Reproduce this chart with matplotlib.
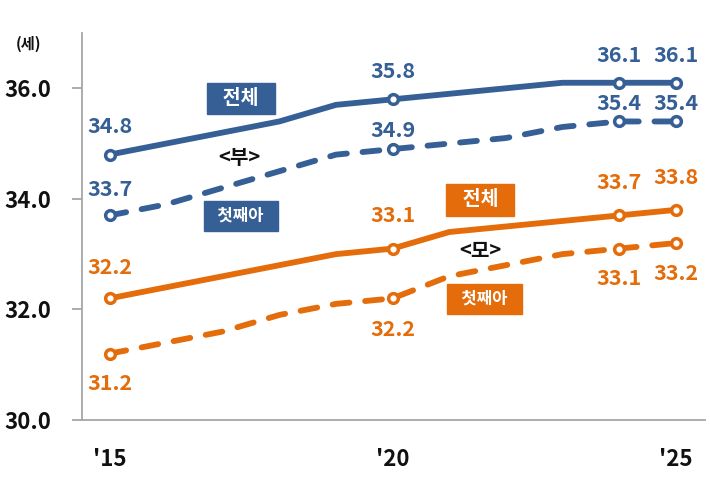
import matplotlib
matplotlib.use("Agg")
import matplotlib.pyplot as plt

plt.rcParams['font.family'] = ['Noto Sans CJK KR', 'DejaVu Sans']

years = list(range(2015, 2026))
father_total = [34.8, 35.0, 35.2, 35.4, 35.7, 35.8, 35.9, 36.0, 36.1, 36.1, 36.1]
father_first = [33.7, 33.9, 34.2, 34.5, 34.8, 34.9, 35.0, 35.1, 35.3, 35.4, 35.4]
mother_total = [32.2, 32.4, 32.6, 32.8, 33.0, 33.1, 33.4, 33.5, 33.6, 33.7, 33.8]
mother_first = [31.2, 31.4, 31.6, 31.9, 32.1, 32.2, 32.6, 32.8, 33.0, 33.1, 33.2]
marked_idx = [0, 5, 9, 10]
xtick_years = [2015, 2020, 2025]
xtick_labels = ["'15", "'20", "'25"]
yticks = [30.0, 32.0, 34.0, 36.0]

BLUE = '#355F95'
ORANGE = '#E46C0A'

fig = plt.figure(figsize=(7.1, 4.79), dpi=100)
ax = fig.add_axes([82/710, 1-420/479, (705-82)/710, (420-33)/479])
ax.set_xlim(2014.514, 2025.52)
ax.set_ylim(30, 37)

series = [
    (father_total, BLUE, '-', [28, 28, 27, 27]),
    (father_first, BLUE, '--', [26, 19, 18, 18]),
    (mother_total, ORANGE, '-', [31, 33, 33, 32]),
    (mother_first, ORANGE, '--', [-30, -31, -30, -30]),
]

for vals, col, ls, offs in series:
    kw = dict(color=col, lw=4.2, solid_capstyle='round', solid_joinstyle='round',
              marker='o', markevery=marked_idx, markersize=7, markeredgewidth=2.5,
              markerfacecolor='white', markeredgecolor=col, zorder=3)
    if ls == '--':
        kw.update(dashes=(2.9, 2.7), dash_capstyle='round')
    ax.plot(years, vals, ls, **kw)
    for i, off in zip(marked_idx, offs):
        ax.annotate(f"{vals[i]:.1f}", (years[i], vals[i]), xytext=(0, off*0.72),
                    textcoords='offset points', ha='center', va='center',
                    color=col, fontsize=15.5, fontweight='bold', zorder=4)

EN = '\u2002'

def box(x, y, s, col, fs, padw):
    ax.text(x, y, EN + s + EN, ha='center', va='center', color='white', fontsize=fs,
            fontweight='bold', zorder=5,
            bbox=dict(boxstyle=f'square,pad={padw}', fc=col, ec=col, lw=1))

box(2017.32, 35.82, '전체', BLUE, 14, 0.32)
box(2017.32, 33.69, '첫째아', BLUE, 12, 0.35)
box(2021.55, 33.98, '전체', ORANGE, 14, 0.32)
box(2021.62, 32.19, '첫째아', ORANGE, 12, 0.35)
ax.text(2017.3, 34.74, '<부>', ha='center', va='center', fontsize=14.5,
        fontweight='bold', color='#111111')
ax.text(2021.55, 33.06, '<모>', ha='center', va='center', fontsize=14.5,
        fontweight='bold', color='#111111')

for s in ['top', 'right']:
    ax.spines[s].set_visible(False)
for s in ['left', 'bottom']:
    ax.spines[s].set_color('#A6A6A6')
    ax.spines[s].set_linewidth(1.3)
ax.set_yticks(yticks)
ax.set_yticklabels([f"{v:.1f}" for v in yticks])
ax.set_xticks(xtick_years)
ax.set_xticklabels(xtick_labels)
ax.tick_params(axis='y', length=7, width=1.3, color='#A6A6A6', pad=15,
               labelsize=16, labelcolor='#111111')
ax.tick_params(axis='x', length=0, pad=20, labelsize=16, labelcolor='#111111')
for lab in ax.get_xticklabels() + ax.get_yticklabels():
    lab.set_fontweight('bold')

fig.text(28/710, 1-44/479, '(세)', ha='center', va='center', fontsize=11,
         fontweight='bold', color='#111111')

fig.savefig('out.png', dpi=100)
